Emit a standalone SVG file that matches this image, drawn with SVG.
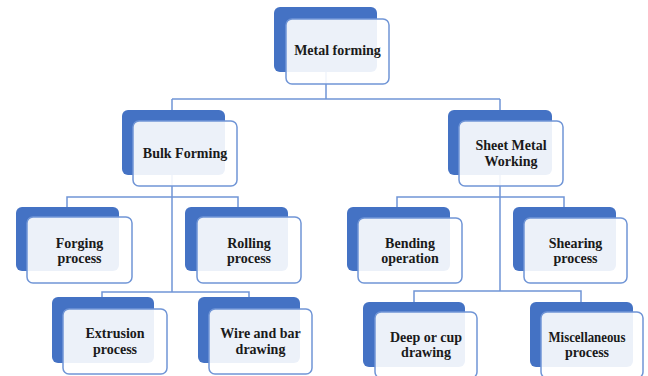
<svg xmlns="http://www.w3.org/2000/svg" width="648" height="376" viewBox="0 0 648 376">
<style>
.bk{fill:#4472C4;}
.fr{fill:#ffffff;fill-opacity:0.9;stroke:#7095D6;stroke-width:1.5;}
.ln{fill:none;stroke:#7095D6;stroke-width:1.5;}
text{font-family:'Liberation Serif',serif;font-weight:bold;font-size:14px;fill:#1a1a1a;text-anchor:middle;}
</style>
<rect width="648" height="376" fill="#ffffff"/>
<g id="connectors">
<path class="ln" d="M326,70 V99 M172,99 H500 M172,99 V292 M500,99 V291"/>
<path class="ln" d="M67,207 V197 H238 V207"/>
<path class="ln" d="M102,297 V292 H249 V297"/>
<path class="ln" d="M397,207 V197 H564 V207"/>
<path class="ln" d="M414,302 V291 H581 V302"/>
</g>
<g id="metal-forming">
<rect class="bk" x="274" y="7" width="103" height="65" rx="6"/>
<rect class="fr" x="286" y="19" width="103" height="65" rx="6"/>
<text x="337.5" y="55">Metal forming</text>
</g>
<g id="bulk-forming">
<rect class="bk" x="122" y="110" width="103" height="65" rx="6"/>
<rect class="fr" x="133" y="121" width="104" height="65" rx="6"/>
<text x="185" y="158">Bulk Forming</text>
</g>
<g id="sheet-metal">
<rect class="bk" x="448" y="110" width="104" height="65" rx="6"/>
<rect class="fr" x="459" y="121" width="104" height="65" rx="6"/>
<text x="511" y="150">Sheet Metal</text>
<text x="511" y="166">Working</text>
</g>
<g id="forging">
<rect class="bk" x="16" y="207" width="103" height="64" rx="6"/>
<rect class="fr" x="27" y="217" width="105" height="66" rx="6"/>
<text x="79.5" y="248">Forging</text>
<text x="79.5" y="263">process</text>
</g>
<g id="rolling">
<rect class="bk" x="185" y="207" width="103" height="64" rx="6"/>
<rect class="fr" x="197" y="217" width="104" height="66" rx="6"/>
<text x="249" y="248">Rolling</text>
<text x="249" y="263">process</text>
</g>
<g id="bending">
<rect class="bk" x="347" y="207" width="103" height="64" rx="6"/>
<rect class="fr" x="358" y="218" width="104" height="65" rx="6"/>
<text x="410" y="248">Bending</text>
<text x="410" y="263">operation</text>
</g>
<g id="shearing">
<rect class="bk" x="513" y="207" width="103" height="64" rx="6"/>
<rect class="fr" x="524" y="218" width="103" height="65" rx="6"/>
<text x="575.5" y="248">Shearing</text>
<text x="575.5" y="263">process</text>
</g>
<g id="extrusion">
<rect class="bk" x="52" y="297" width="102" height="66" rx="6"/>
<rect class="fr" x="63" y="309" width="104" height="65" rx="6"/>
<text x="115" y="338">Extrusion</text>
<text x="115" y="354">process</text>
</g>
<g id="wire-bar">
<rect class="bk" x="198" y="297" width="102" height="66" rx="6"/>
<rect class="fr" x="209" y="309" width="103" height="65" rx="6"/>
<text x="260.5" y="338">Wire and bar</text>
<text x="260.5" y="354">drawing</text>
</g>
<g id="deep-cup">
<rect class="bk" x="363" y="302" width="102" height="65" rx="6"/>
<rect class="fr" x="375" y="312" width="102" height="66" rx="6"/>
<text x="426" y="342">Deep or cup</text>
<text x="426" y="357">drawing</text>
</g>
<g id="miscellaneous">
<rect class="bk" x="530" y="302" width="103" height="65" rx="6"/>
<rect class="fr" x="541" y="312" width="102" height="66" rx="6"/>
<text x="587" y="342" textLength="77" lengthAdjust="spacingAndGlyphs">Miscellaneous</text>
<text x="587" y="357">process</text>
</g>
</svg>
